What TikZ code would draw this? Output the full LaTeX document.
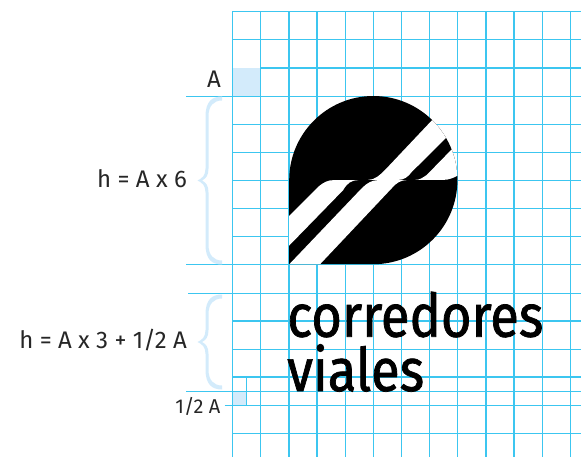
\documentclass[tikz,border=0pt]{standalone}
\usepackage{fontspec}
\setmainfont{Fira Sans}
\newfontfamily\logofont[FakeBold=1.2,FakeStretch=0.875]{Fira Sans}
\definecolor{gridc}{HTML}{3CC6F0}
\definecolor{pale}{HTML}{D3EBFB}
\tikzset{
  gl/.style={draw=gridc,line width=1.05pt},
  lab/.style={inner sep=0,font=\fontsize{24}{24}\selectfont,text=black!85,anchor=base east},
  logotext/.style={inner sep=0,anchor=base west,font=\logofont\fontsize{60}{60}\selectfont,text=black},
  brace/.style={fill=pale,draw=none}
}
\newcommand{\bracefig}[2]{%
  \pgfmathsetmacro{\ym}{(#1+#2)/2}
  \path[brace] (222,#1) .. controls (212,#1) and (205.5,#1+5) .. (205.5,#1+20)
    -- (205.5,\ym-12) .. controls (205.5,\ym-5) and (202,\ym-2) .. (197.5,\ym)
    .. controls (202,\ym+2) and (205.5,\ym+5) .. (205.5,\ym+12)
    -- (205.5,#2-20) .. controls (205.5,#2-5) and (212,#2) .. (222,#2)
    -- (222,#2-4) .. controls (214,#2-4) and (208.5,#2-9) .. (208.5,#2-20)
    -- (208.5,\ym+12) .. controls (208.5,\ym+5) and (206,\ym+2) .. (202,\ym)
    .. controls (206,\ym-2) and (208.5,\ym-5) .. (208.5,\ym-12)
    -- (208.5,#1+20) .. controls (208.5,#1+9) and (214,#1+4) .. (222,#1+4) -- cycle;}
\begin{document}
\begin{tikzpicture}[x=1pt,y=-1pt]
\useasboundingbox (0,0) rectangle (581,457);
% pale squares
\fill[pale] (232.5,68) rectangle (261,96.2);
\fill[pale] (232.5,391.5) rectangle (246.7,405.5);
% grid
\foreach \gx in {232.5,260.7,289,317,345.2,373.4,401.5,429.7,457.9,486,514,542.1,570.2}
  \draw[gl] (\gx,11.5) -- (\gx,457);
\foreach \gy in {11.5,39.6,124.3,152.5,180.6,208.7,236.8,321,349.2,377,433.5}
  \draw[gl] (232.5,\gy) -- (581,\gy);
\draw[gl] (261,68) -- (581,68);
\draw[gl] (186,96.2) -- (581,96.2);
\draw[gl] (186,264.8) -- (581,264.8);
\draw[gl] (188,293.4) -- (581,293.4);
\draw[gl] (186,391.5) -- (581,391.5);
\draw[gl] (224.5,405.5) -- (581,405.5);
\draw[gl] (246.7,377) -- (246.7,405.5);
% braces
\bracefig{96.5}{264.5}
\bracefig{294.5}{389.5}
% logo
\begin{scope}
  \clip (289.2,180.1) .. controls (289.2,133.7) and (326.9,96) .. (373.3,96)
    .. controls (419.7,96) and (457.4,133.7) .. (457.4,180.1)
    .. controls (457.4,226.5) and (419.7,264.2) .. (373.3,264.2)
    -- (289.2,264.2) -- cycle;
  \fill[black] (280,90) rectangle (465,270);
  % lower bands
  \fill[white] (280,225) -- (318.3,186.7) .. controls (324,182) and (328,180.1) .. (334,180.1)
    -- (358.3,180.1) .. controls (352,180.1) and (347,183) .. (343.3,190) -- (280,255) -- cycle;
  \fill[white] (280,274) -- (361.7,188.3) .. controls (367,183) and (372,180.1) .. (378,180.1)
    -- (406.7,180.1) .. controls (401,180.1) and (396,183) .. (391.7,188.3) -- (315,269.6) -- cycle;
  % upper bands
  \fill[white] (436,116) -- (385,170) .. controls (380,175) and (375,179.9) .. (368,179.9)
    -- (398.3,179.9) .. controls (404,179.9) and (408,177) .. (411.7,172) -- (450,134) -- cycle;
  \fill[white] (455,146) -- (426.7,175) .. controls (422,178) and (420,179.9) .. (415,179.9)
    -- (443.3,179.9) .. controls (449,179.9) and (454,178) .. (462,173) -- (462,146) -- cycle;
\end{scope}
% labels
\node[lab] (la) at (221,88) {A};
\node[lab] (lh) at (187,188) {h = A x 6};
\node[lab] (lk) at (187,348) {h = A x 3 + 1/2 A};
\node[lab,font=\fontsize{20}{20}\selectfont] (lhalf) at (220.5,413) {1/2 A};
\node[logotext] (c) at (287,336.7) {corredores};
\node[logotext] (v) at (287,391) {viales};
\end{tikzpicture}
\end{document}
